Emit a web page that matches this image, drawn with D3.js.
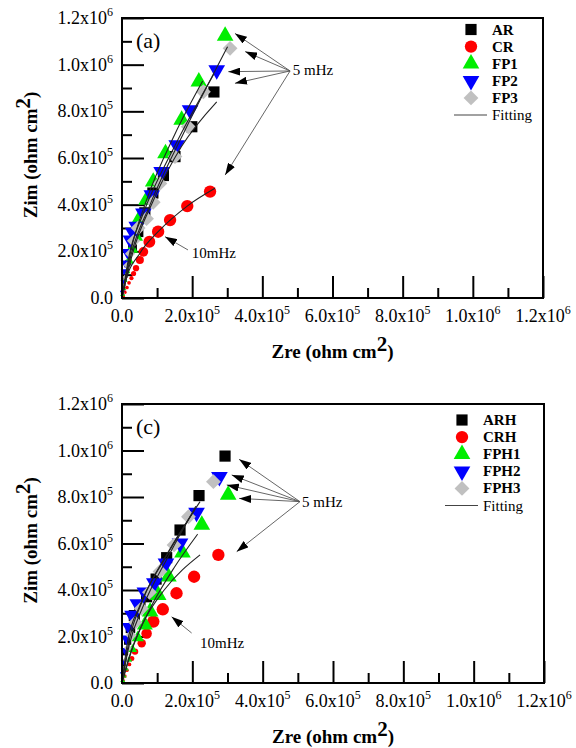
<!DOCTYPE html>
<html>
<head>
<meta charset="utf-8">
<script src="https://cdn.jsdelivr.net/npm/d3@7"></script>
<style>
body{margin:0;background:#fff}
svg{display:block}
svg text{font-family:"Liberation Serif","Times New Roman",Times,serif}
</style>
</head>
<body>
<svg id="chart" width="576" height="748" font-family="Liberation Serif, Times New Roman, serif"></svg>
<script>
// axis ticks (same on both axes and both panels)
const tickValues = [0, 2e5, 4e5, 6e5, 8e5, 1e6, 1.2e6];
const minorValues = [1e5, 3e5, 5e5, 7e5, 9e5, 1.1e6];
const tickMant = ["0.0", "2.0", "4.0", "6.0", "8.0", "1.0", "1.2"];
const tickExp = [null, 5, 5, 5, 5, 6, 6];

// panel (a) - [Zre, Zim], high frequency first
const namesA = ["AR", "CR", "FP1", "FP2", "FP3"];
const AR = [[2e3,20e3],[5e3,50e3],[10e3,95e3],[18e3,150e3],[30e3,215e3],[45e3,285e3],[65e3,365e3],[88e3,450e3],[118e3,525e3],[151e3,606e3],[199e3,734e3],[262e3,883e3]];
const CR = [[3e3,8e3],[8e3,25e3],[14e3,45e3],[20e3,65e3],[27e3,85e3],[33e3,105e3],[40e3,128e3],[51e3,163e3],[61e3,198e3],[78e3,241e3],[103e3,284e3],[137e3,334e3],[186e3,394e3],[251e3,456e3]];
const FP1 = [[2e3,15e3],[5e3,40e3],[9e3,75e3],[14e3,115e3],[20e3,160e3],[28e3,210e3],[37e3,265e3],[50e3,340e3],[70e3,420e3],[89e3,498e3],[124e3,620e3],[170e3,763e3],[219e3,927e3],[294e3,1123e3]];
const FP2 = [[1e3,25e3],[3e3,70e3],[6e3,115e3],[9e3,150e3],[15e3,195e3],[23e3,249e3],[32e3,280e3],[42e3,306e3],[61e3,363e3],[85e3,441e3],[113e3,541e3],[156e3,656e3],[194e3,806e3],[270e3,977e3]];
const FP3 = [[2e3,20e3],[5e3,50e3],[9e3,90e3],[15e3,140e3],[23e3,190e3],[33e3,245e3],[46e3,300e3],[70e3,340e3],[89e3,410e3],[108e3,491e3],[151e3,606e3],[189e3,734e3],[232e3,884e3],[308e3,1070e3]];
const fitA = [
  [[0,0],[30e3,190e3],[90e3,420e3],[170e3,650e3],[270e3,841e3]],
  [[0,0],[8.6e3,63e3],[51e3,192e3],[103e3,284e3],[186e3,394e3],[265e3,470e3]],
  [[0,0],[25e3,200e3],[70e3,420e3],[150e3,700e3],[230e3,930e3]],
  [[0,0],[20e3,180e3],[60e3,360e3],[150e3,650e3],[262e3,960e3]],
  [[0,0],[25e3,180e3],[80e3,400e3],[180e3,720e3],[301e3,1077e3]]
];

// panel (c)
const namesC = ["ARH", "CRH", "FPH1", "FPH2", "FPH3"];
const ARH = [[2e3,35e3],[5e3,80e3],[10e3,130e3],[16e3,180e3],[24e3,235e3],[35e3,290e3],[51e3,330e3],[70e3,371e3],[97e3,447e3],[127e3,539e3],[165e3,658e3],[219e3,806e3],[293e3,976e3]];
const CRH = [[3e3,10e3],[8e3,30e3],[14e3,55e3],[21e3,80e3],[28e3,105e3],[37e3,135e3],[56e3,171e3],[70e3,213e3],[89e3,264e3],[116e3,317e3],[155e3,386e3],[205e3,457e3],[274e3,551e3]];
const FPH1 = [[2e3,10e3],[6e3,30e3],[12e3,60e3],[20e3,100e3],[30e3,145e3],[45e3,195e3],[65e3,250e3],[80e3,307e3],[103e3,378e3],[132e3,457e3],[172e3,560e3],[227e3,680e3],[302e3,809e3]];
const FPH2 = [[1e3,40e3],[4e3,90e3],[8e3,140e3],[13e3,190e3],[20e3,240e3],[30e3,290e3],[45e3,340e3],[65e3,390e3],[92e3,430e3],[125e3,515e3],[165e3,601e3],[212e3,733e3],[277e3,887e3]];
const FPH3 = [[2e3,20e3],[5e3,55e3],[10e3,100e3],[17e3,150e3],[26e3,205e3],[38e3,260e3],[55e3,320e3],[78e3,390e3],[108e3,480e3],[148e3,594e3],[189e3,715e3],[260e3,866e3]];
const fitC = [
  [[0,0],[20e3,180e3],[60e3,360e3],[130e3,560e3],[222e3,780e3]],
  [[0,0],[20e3,110e3],[60e3,260e3],[120e3,400e3],[222e3,551e3]],
  [[0,0],[30e3,150e3],[80e3,320e3],[150e3,500e3],[215e3,640e3]],
  [[0,0],[15e3,170e3],[50e3,330e3],[120e3,530e3],[205e3,740e3]],
  [[0,0],[20e3,160e3],[60e3,330e3],[130e3,540e3],[210e3,760e3]]
];

// annotations (data coords): arrow source, arrow heads, text
const annA = {src:[479e3,973e3], heads:[[322e3,1134e3],[351e3,1056e3],[303e3,970e3],[322e3,920e3],[294e3,527e3]], text:[487e3,955e3],
  lowSrc:[188e3,206e3], lowHead:[122.6e3,263e3], lowText:[199e3,171e3]};
const annC = {src:[506e3,780e3], heads:[[333e3,962e3],[312e3,895e3],[298e3,852e3],[333e3,794e3],[326e3,565e3]], text:[512e3,757e3],
  lowSrc:[198e3,215e3], lowHead:[141e3,285e3], lowText:[222e3,150e3]};

const colors = ["#000000", "#ff0000", "#00ee00", "#0000ff", "#c0c0c0"];
const shapes = [d3.symbolSquare, d3.symbolCircle, d3.symbolTriangle, d3.symbolTriangle, d3.symbolSquare];
const rotate = [0, 0, 0, 180, 45];
const baseSize = [125, 120, 120, 120, 110];
const serif = "Liberation Serif, Times New Roman, serif";

const svg = d3.select("#chart");
const defs = svg.append("defs");
defs.append("marker").attr("id", "ah").attr("viewBox", "0 0 12 8")
  .attr("refX", 12).attr("refY", 4).attr("markerWidth", 12).attr("markerHeight", 8)
  .attr("markerUnits", "userSpaceOnUse").attr("orient", "auto")
  .append("path").attr("d", "M0,0L12,4L0,8Z").attr("fill", "#000");

function sciLabel(sel, i) {
  sel.append("tspan").text(tickExp[i] == null ? tickMant[i] : tickMant[i] + "x10");
  if (tickExp[i] != null)
    sel.append("tspan").attr("font-size", 12).attr("dy", -8).text(tickExp[i]);
}

function drawPanel(p) {
  const x = d3.scaleLinear().domain([0, 1.2e6]).range([p.left, p.right]);
  const y = d3.scaleLinear().domain([0, 1.2e6]).range([p.bottom, p.top]);
  const g = svg.append("g").attr("font-family", serif);

  // ticks, inward
  g.append("g").attr("transform", `translate(0,${p.bottom})`)
    .call(d3.axisBottom(x).tickValues(tickValues).tickSize(-22).tickSizeOuter(0).tickFormat(""))
    .call(a => a.select(".domain").remove());
  g.append("g").attr("transform", `translate(0,${p.bottom})`)
    .call(d3.axisBottom(x).tickValues(minorValues).tickSize(-10).tickSizeOuter(0).tickFormat(""))
    .call(a => a.select(".domain").remove());
  g.append("g").attr("transform", `translate(${p.left},0)`)
    .call(d3.axisLeft(y).tickValues(tickValues).tickSize(-22).tickSizeOuter(0).tickFormat(""))
    .call(a => a.select(".domain").remove());
  g.append("g").attr("transform", `translate(${p.left},0)`)
    .call(d3.axisLeft(y).tickValues(minorValues).tickSize(-10).tickSizeOuter(0).tickFormat(""))
    .call(a => a.select(".domain").remove());
  g.selectAll(".tick line").attr("stroke", "#000").attr("stroke-width", 2);

  // tick labels
  tickValues.forEach((v, i) => {
    const tx = g.append("text").attr("x", x(v)).attr("y", p.bottom + 24)
      .attr("text-anchor", "middle").attr("font-size", 18).attr("font-family", serif);
    sciLabel(tx, i);
    const ty = g.append("text").attr("x", p.left - 9).attr("y", y(v) + 6)
      .attr("text-anchor", "end").attr("font-size", 18).attr("font-family", serif);
    sciLabel(ty, i);
  });

  // markers
  const x0 = x(0), y0 = y(0);
  p.series.forEach((s, k) => {
    g.append("g").selectAll("path").data(s).join("path")
      .attr("transform", d => `translate(${x(d[0])},${y(d[1])}) rotate(${rotate[k]})`)
      .attr("d", d => {
        const dist = Math.hypot(x(d[0]) - x0, y(d[1]) - y0);
        const f = Math.max(0.3, Math.min(1, dist / 65));
        return d3.symbol(shapes[k], baseSize[k] * f * f)();
      })
      .attr("fill", colors[k]);
  });

  // fitting lines
  const line = d3.line().x(d => x(d[0])).y(d => y(d[1])).curve(d3.curveMonotoneX);
  p.fits.forEach(f => {
    g.append("path").datum(f).attr("d", line).attr("fill", "none")
      .attr("stroke", "#222").attr("stroke-width", 1.1);
  });

  // frame
  g.append("rect").attr("x", p.left).attr("y", p.top)
    .attr("width", p.right - p.left).attr("height", p.bottom - p.top)
    .attr("fill", "none").attr("stroke", "#000").attr("stroke-width", 2);

  // panel letter
  g.append("text").attr("x", p.left + 14).attr("y", p.top + 30).attr("font-size", 22)
    .attr("font-family", serif).text(p.letter);

  // legend
  p.names.forEach((n, k) => {
    const ly = p.legY + k * 17.1;
    g.append("path")
      .attr("transform", `translate(${p.legX},${ly}) rotate(${rotate[k]})`)
      .attr("d", d3.symbol(shapes[k], baseSize[k])()).attr("fill", colors[k]);
    g.append("text").attr("x", p.legX + 21).attr("y", ly + 5).attr("font-family", serif)
      .attr("font-size", 15).attr("font-weight", "bold").text(n);
  });
  const fy = p.legY + 5 * 17.1;
  g.append("line").attr("x1", p.legX - 17).attr("x2", p.legX + 16)
    .attr("y1", fy).attr("y2", fy).attr("stroke", "#444").attr("stroke-width", 1.2);
  g.append("text").attr("x", p.legX + 21).attr("y", fy + 5).attr("font-size", 15)
    .attr("font-family", serif).text("Fitting");

  // annotations
  const a = p.ann;
  a.heads.forEach(h => {
    g.append("line").attr("x1", x(a.src[0])).attr("y1", y(a.src[1]))
      .attr("x2", x(h[0])).attr("y2", y(h[1]))
      .attr("stroke", "#555").attr("stroke-width", 0.9).attr("marker-end", "url(#ah)");
  });
  g.append("text").attr("x", x(a.text[0])).attr("y", y(a.text[1])).attr("font-size", 15)
    .attr("font-family", serif).text("5 mHz");
  g.append("line").attr("x1", x(a.lowSrc[0])).attr("y1", y(a.lowSrc[1]))
    .attr("x2", x(a.lowHead[0])).attr("y2", y(a.lowHead[1]))
    .attr("stroke", "#555").attr("stroke-width", 0.9).attr("marker-end", "url(#ah)");
  g.append("text").attr("x", x(a.lowText[0])).attr("y", y(a.lowText[1])).attr("font-size", 15)
    .attr("font-family", serif).text("10mHz");

  // axis titles
  const xt = g.append("text").attr("x", (p.left + p.right) / 2).attr("y", p.bottom + 60)
    .attr("text-anchor", "middle").attr("font-size", 19).attr("font-weight", "bold").attr("font-family", serif);
  xt.append("tspan").text("Zre (ohm cm");
  xt.append("tspan").attr("dy", -7).attr("font-size", 21).text("2");
  xt.append("tspan").attr("dy", 7).text(")");
  const yt = g.append("text")
    .attr("transform", `translate(37,${(p.top + p.bottom) / 2 - 3}) rotate(-90)`)
    .attr("text-anchor", "middle").attr("font-size", 19).attr("font-weight", "bold").attr("font-family", serif);
  yt.append("tspan").text("Zim (ohm cm");
  yt.append("tspan").attr("dy", -7).attr("font-size", 21).text("2");
  yt.append("tspan").attr("dy", 7).text(")");
}

drawPanel({top: 18, bottom: 298, left: 122, right: 543, letter: "(a)",
  series: [AR, CR, FP1, FP2, FP3], fits: fitA, names: namesA, legX: 471, legY: 29.5, ann: annA});
drawPanel({top: 404, bottom: 683, left: 122, right: 544, letter: "(c)",
  series: [ARH, CRH, FPH1, FPH2, FPH3], fits: fitC, names: namesC, legX: 462, legY: 420, ann: annC});
</script>
</body>
</html>
